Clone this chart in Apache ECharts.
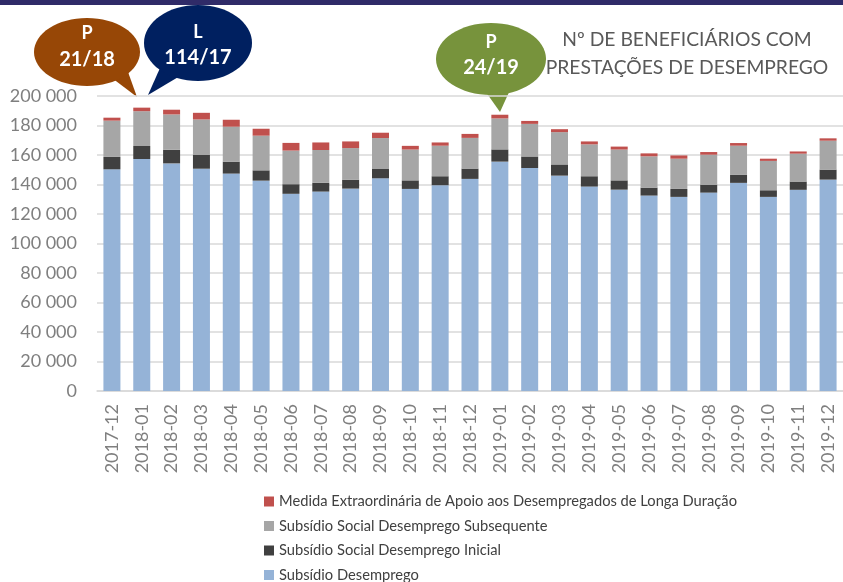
<!DOCTYPE html>
<html>
<head>
<meta charset="utf-8">
<script src="https://cdn.jsdelivr.net/npm/echarts@6/dist/echarts.min.js"></script>
<style>
  html, body { margin: 0; padding: 0; background: #fff; }
  #chart { width: 843px; height: 582px; }
</style>
</head>
<body>
<div id="chart"></div>
<script>
// --- data -----------------------------------------------------------
var months = ['2017-12', '2018-01', '2018-02', '2018-03', '2018-04', '2018-05', '2018-06',
	'2018-07', '2018-08', '2018-09', '2018-10', '2018-11', '2018-12', '2019-01', '2019-02',
	'2019-03', '2019-04', '2019-05', '2019-06', '2019-07', '2019-08', '2019-09', '2019-10',
	'2019-11', '2019-12'];

var subsidioDesemprego = [150300, 157300, 154300, 150700, 147400, 142600, 133700, 135200, 137200,
	144200, 137000, 139500, 143800, 155500, 151200, 146000, 138600, 136500, 132500, 131600,
	134500, 141100, 131600, 136400, 143300];
var socialInicial = [8400, 8800, 9300, 9300, 8100, 7000, 6500, 5900, 6100, 6300, 5800, 6100,
	7000, 8300, 7800, 7600, 7000, 6300, 5400, 5400, 5400, 5400, 4500, 5600, 6800];
var socialSubsequente = [24600, 23600, 23900, 24100, 23700, 23500, 22800, 22300, 21400, 21000,
	20900, 20700, 20800, 21000, 22100, 21900, 21600, 20900, 21200, 20500, 20300, 19800, 19900,
	18900, 19600];
var medidaLongaDuracao = [2000, 2400, 3200, 4500, 4700, 4700, 5200, 5100, 4500, 3600, 2500, 2200,
	2700, 2500, 2000, 2000, 2000, 2000, 2000, 2200, 1800, 1800, 1500, 1500, 1600];

var yTicks = [0, 20000, 40000, 60000, 80000, 100000, 120000, 140000, 160000, 180000, 200000];

var seriesNames = ['Subsídio Desemprego', 'Subsídio Social Desemprego Inicial',
	'Subsídio Social Desemprego Subsequente',
	'Medida Extraordinária de Apoio aos Desempregados de Longa Duração'];

// --------------------------------------------------------------------
var FONT = 'Lato';

function thousands(v) {
	return String(v).replace(/\B(?=(\d{3})+(?!\d))/g, ' ');
}

// speech bubble = ellipse + tail
function bubble(cx, cy, rx, ry, tail, color, l1, l2, y1, y2) {
	return {
		type: 'group',
		children: [
			{ type: 'polygon', shape: { points: tail }, style: { fill: color } },
			{ type: 'ellipse', shape: { cx: cx, cy: cy, rx: rx, ry: ry }, style: { fill: color } },
			{ type: 'text', x: cx, y: y1, style: { text: l1, fill: '#fff', font: 'bold 18px ' + FONT, textAlign: 'center', textVerticalAlign: 'middle' } },
			{ type: 'text', x: cx, y: y2, style: { text: l2, fill: '#fff', font: 'bold 20px ' + FONT, textAlign: 'center', textVerticalAlign: 'middle' } }
		]
	};
}

var colors = ['#95b3d7', '#404040', '#a6a6a6', '#c0504d'];
var values = [subsidioDesemprego, socialInicial, socialSubsequente, medidaLongaDuracao];

var series = seriesNames.map(function (name, i) {
	return {
		name: name,
		type: 'bar',
		stack: 'total',
		barWidth: 17,
		itemStyle: { color: colors[i] },
		data: values[i]
	};
});

var chart = echarts.init(document.getElementById('chart'));

chart.setOption({
	animation: false,
	textStyle: { fontFamily: FONT },
	grid: { left: 97, top: 96, width: 757, bottom: 191, containLabel: false },
	legend: {
		orient: 'vertical',
		left: 264,
		top: 494,
		height: 160,
		padding: 0,
		icon: 'rect',
		itemWidth: 10,
		itemHeight: 10,
		itemGap: 9.5,
		textStyle: { fontSize: 14.7, color: '#404040', lineHeight: 14, fontFamily: FONT },
		data: seriesNames.slice().reverse()
	},
	xAxis: {
		type: 'category',
		data: months,
		axisLine: { lineStyle: { color: '#d9d9d9', width: 1.5 } },
		axisTick: { show: false },
		axisLabel: { rotate: 90, fontSize: 18, color: '#7f7f7f', margin: 13, interval: 0 }
	},
	yAxis: {
		type: 'value',
		min: yTicks[0],
		max: yTicks[yTicks.length - 1],
		interval: yTicks[1] - yTicks[0],
		axisLine: { show: false },
		axisTick: { show: false },
		splitLine: { lineStyle: { color: '#d9d9d9', width: 1.5 } },
		axisLabel: { fontSize: 18, color: '#7f7f7f', margin: 20, formatter: thousands }
	},
	series: series,
	graphic: [
		{ type: 'rect', shape: { x: 0, y: 0, width: 843, height: 5 }, style: { fill: '#2f2b68' } },
		{
			type: 'text', x: 687, y: 26,
			style: {
				text: 'Nº DE BENEFICIÁRIOS COM\nPRESTAÇÕES DE DESEMPREGO',
				fill: '#595959', font: '19.3px ' + FONT, textAlign: 'center', lineHeight: 28
			}
		},
		bubble(87, 52, 53, 34, [[112, 78], [137, 97], [128, 72]], '#974706', 'P', '21/18', 33, 60),
		bubble(198, 43, 54, 38, [[160, 68], [148, 95], [180, 76]], '#002060', 'L', '114/17', 32, 58),
		bubble(491, 59, 55, 36, [[483, 88], [500, 112], [510, 90]], '#77933c', 'P', '24/19', 42, 68)
	]
});
</script>
</body>
</html>
